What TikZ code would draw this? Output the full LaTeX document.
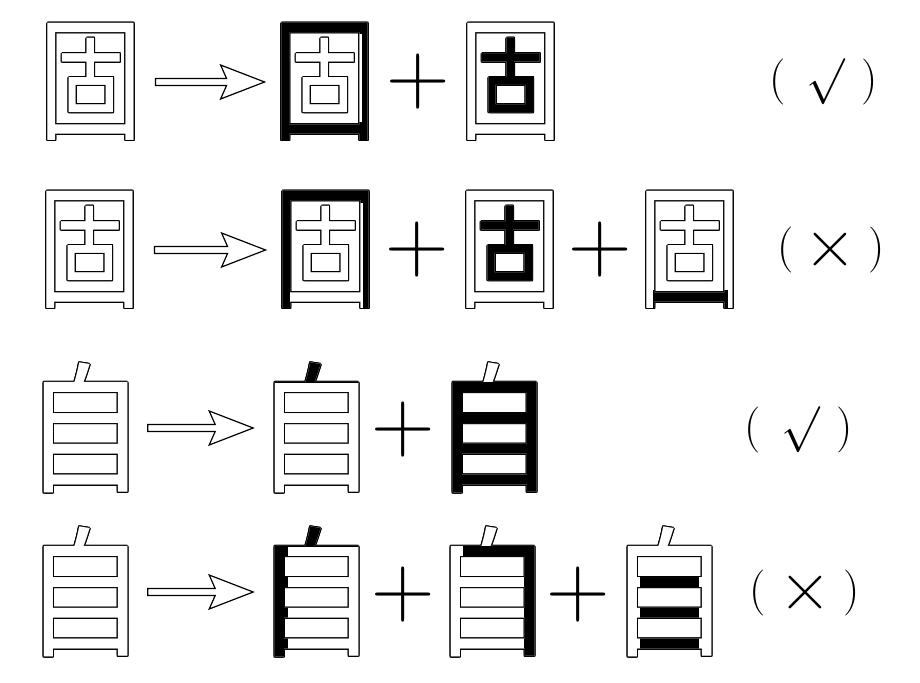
\documentclass[tikz,border=0pt]{standalone}
\usepackage{fontspec}
\newfontfamily\cjk{Noto Sans CJK SC}
\usetikzlibrary{calc}
\tikzset{
  gu/.style    = {inner sep=0pt, font=\cjk\fontsize{134}{134}\selectfont, xscale=0.78},
  zi/.style    = {inner sep=0pt, font=\cjk\fontsize{141}{141}\selectfont, xscale=0.86},
  plus/.style  = {inner sep=0pt, font=\fontsize{88}{88}\selectfont},
  paren/.style = {inner sep=0pt, font=\fontsize{46}{46}\selectfont},
  verdict/.style = {inner sep=0pt, font=\fontsize{24.88}{25}\selectfont, scale=1.85},
  cross/.style = {inner sep=0pt, font=\fontsize{72}{72}\selectfont},
  arrowline/.style = {draw, line width=1.2pt, fill=white, line join=miter},
}
% outlined character: style, name, position, character
\newcommand\hollow[4]{%
  \foreach \ang in {0,30,...,330}
    \node[#1,text=black] at ($(#3)+(\ang:1.2)$) {#4};
  \node[#1,text=white] (#2) at (#3) {#4};}
% filled part of a character: style, position, character, clip path
\newcommand\boldpart[4]{%
  \begin{scope}[shift={(#2)}]
    \clip #4;
    \node[#1] at (0,0) {#3};
  \end{scope}}
% hollow arrow: from, to, gap at start, gap at tip
\newcommand\hollowarrow[4]{%
  \coordinate (tip) at ($(#2.west |- #1.east)+(-#4,0)$);
  \draw[arrowline] ($(#1.east)+(#3,-3.5)$) -- ($(tip)+(-38,-3.5)$)
    -- ($(tip)+(-44,-17)$) -- (tip) -- ($(tip)+(-44,17)$)
    -- ($(tip)+(-38,3.5)$) -- ($(#1.east)+(#3,3.5)$) -- cycle;}

\begin{document}
\begin{tikzpicture}[x=1pt,y=-1pt]
\useasboundingbox (0,0) rectangle (920,682);

% row 1
\hollow{gu}{a1}{91,82}{固}
\hollow{gu}{a2}{325,82}{固}
\boldpart{gu}{325,82}{固}{(-60,-65) rectangle (-37,65) (-37,-65) rectangle (37,-48)
  (37,-65) rectangle (60,65) (-37,40) rectangle (37,65)}
\node[plus] (p1) at (418,82) {+};
\hollow{gu}{a3}{511,82}{固}
\boldpart{gu}{511,82}{固}{(-32,-47) rectangle (32,36)}
\hollowarrow{a1}{a2}{12}{8}
\node[paren] (l1) at (778,82) {(};
\node[verdict] (m1) at (826,82) {$\surd$};
\node[paren] (r1) at (870,82) {)};

% row 2
\hollow{gu}{b1}{90,250}{固}
\hollow{gu}{b2}{326,250}{固}
\boldpart{gu}{326,250}{固}{(-60,-65) rectangle (-37,65) (-37,-65) rectangle (37,-48)
  (37,-65) rectangle (60,65)}
\node[plus] (p2) at (417,250) {+};
\hollow{gu}{b3}{510,250}{固}
\boldpart{gu}{510,250}{固}{(-32,-47) rectangle (32,36)}
\node[plus] (p3) at (600,250) {+};
\hollow{gu}{b4}{690,250}{固}
\boldpart{gu}{690,250}{固}{(-37,40) rectangle (37,65)}
\hollowarrow{b1}{b2}{12}{8}
\node[paren] (l2) at (786,250) {(};
\node[cross] (m2) at (830,250) {×};
\node[paren] (r2) at (877,250) {)};

% row 3
\hollow{zi}{c1}{85,428}{自}
\hollow{zi}{c2}{316,428}{自}
\boldpart{zi}{316,428}{自}{(-60,-70) rectangle (60,-46)}
\node[plus] (p4) at (403,430) {+};
\hollow{zi}{c3}{494,428}{自}
\boldpart{zi}{494,428}{自}{(-60,-46) rectangle (60,70)}
\hollowarrow{c1}{c2}{2}{2}
\node[paren] (l3) at (753,430) {(};
\node[verdict] (m3) at (801,430) {$\surd$};
\node[paren] (r3) at (845,430) {)};

% row 4
\hollow{zi}{d1}{85,592}{自}
\hollow{zi}{d2}{316,592}{自}
\boldpart{zi}{316,592}{自}{(-60,-70) rectangle (60,-46) (-60,-46) rectangle (-29,70)}
\node[plus] (p5) at (403,595) {+};
\hollow{zi}{d3}{492,592}{自}
\boldpart{zi}{492,592}{自}{(-29,-46) rectangle (60,-35) (31.5,-35) rectangle (60,70)}
\node[plus] (p6) at (578,595) {+};
\hollow{zi}{d4}{669,592}{自}
\boldpart{zi}{669,592}{自}{(-29,-35) rectangle (29,70)}
\hollowarrow{d1}{d2}{2}{2}
\node[paren] (l4) at (758,593) {(};
\node[cross] (m4) at (805,593) {×};
\node[paren] (r4) at (852,593) {)};
\end{tikzpicture}
\end{document}
